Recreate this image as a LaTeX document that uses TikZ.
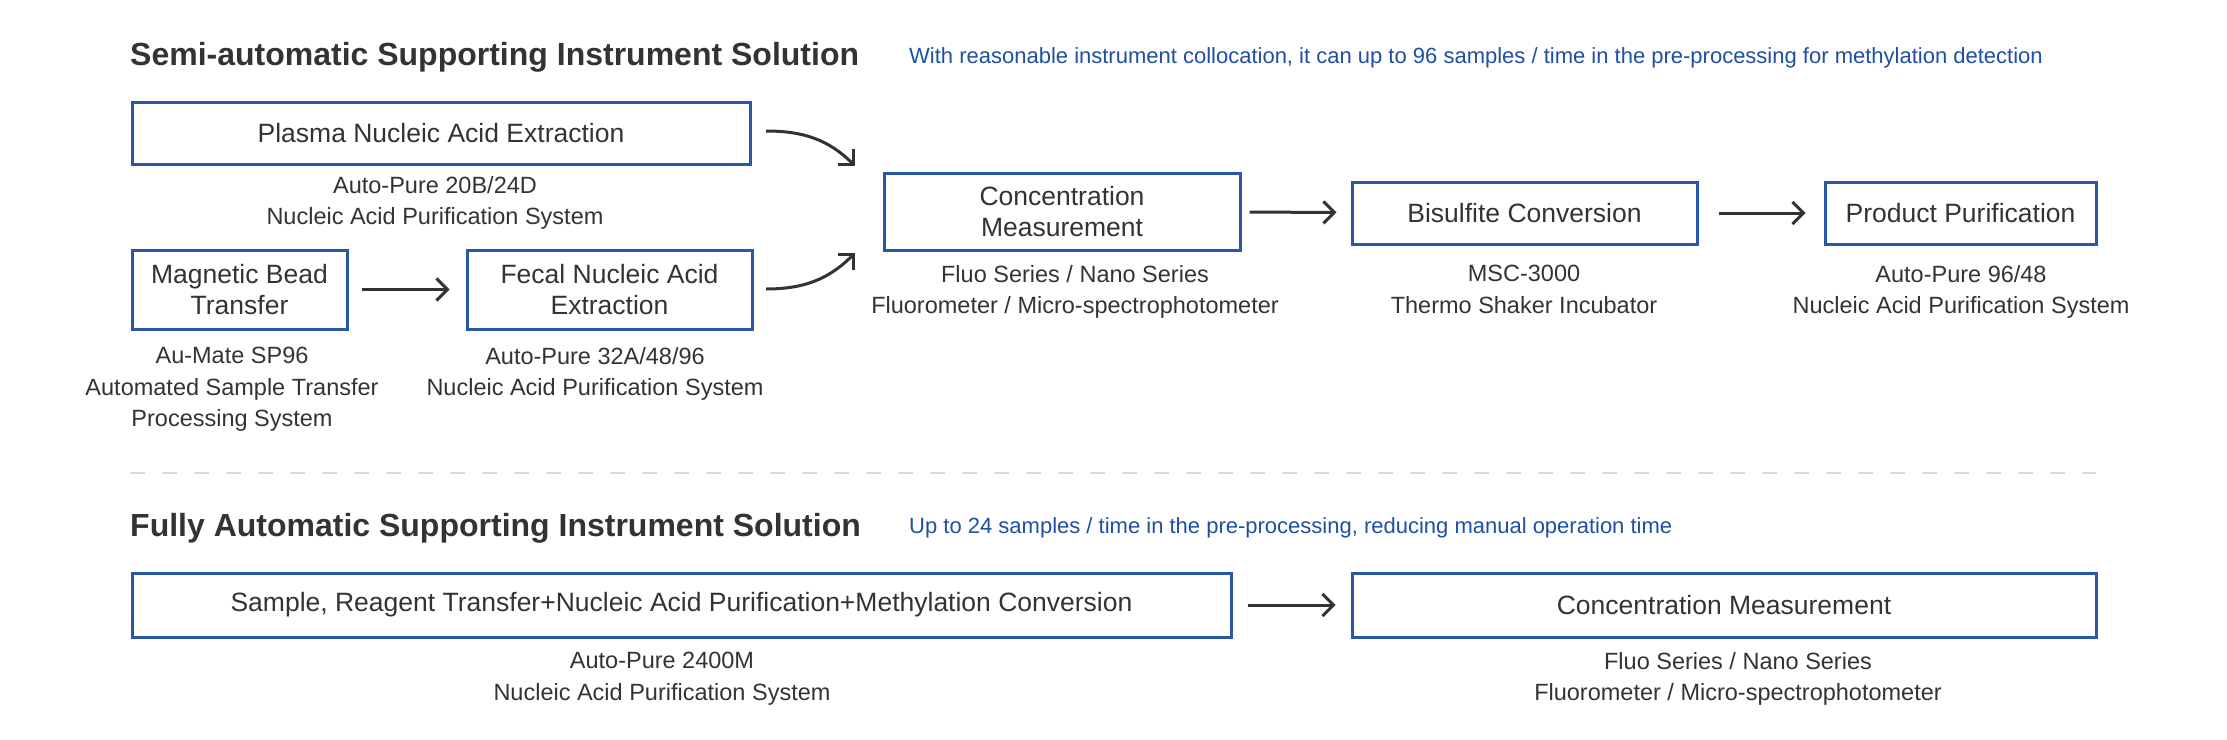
\documentclass[tikz,border=0pt]{standalone}
\usepackage{fontspec}
\setmainfont{Liberation Sans}
\usetikzlibrary{arrows.meta}
\definecolor{boxblue}{HTML}{2B58A6}
\definecolor{txt}{HTML}{333333}
\definecolor{bluetxt}{HTML}{1F4FA3}
\definecolor{dashgray}{HTML}{D9D9D9}
\begin{document}
\begin{tikzpicture}[x=1pt,y=-1pt,
  box/.style={draw=boxblue,line width=3pt,inner sep=0pt,align=center,text=txt,
    font=\fontsize{26.5}{31.5}\selectfont},
  lab/.style={anchor=north,inner sep=0pt,align=center,text=txt,
    font=\fontsize{23.5}{31.5}\selectfont},
  title/.style={anchor=base west,inner sep=0pt,text=txt,font=\fontsize{32}{36}\selectfont\bfseries},
  note/.style={anchor=base west,inner sep=0pt,text=bluetxt,font=\fontsize{22}{26}\selectfont},
  arr/.style={draw=txt,line width=3pt,-{Straight Barb[length=11pt,width=22pt,line width=3pt]}}]
\useasboundingbox (0,0) rectangle (2227,739);
% titles
\node[title] (t1) at (130,65) {Semi-automatic Supporting Instrument Solution};
\node[note] (n1) at (909,63) {With reasonable instrument collocation, it can up to 96 samples / time in the pre-processing for methylation detection};
\node[title] (t2) at (130,536) {Fully Automatic Supporting Instrument Solution};
\node[note] (n2) at (909,533) {Up to 24 samples / time in the pre-processing, reducing manual operation time};
% separator
\coordinate (d1) at (130,473);
\coordinate (d2) at (2096,473);
\draw[dashgray,line width=2.5pt,dash pattern=on 15pt off 17pt] (d1) -- (d2);
% boxes
\node[box,minimum width=618pt,minimum height=62pt] (plasma) at (441,133) {Plasma Nucleic Acid Extraction};
\node[box,minimum width=215pt,minimum height=79pt] (mag) at (239.5,289.5) {Magnetic Bead\\Transfer};
\node[box,minimum width=285pt,minimum height=79pt] (fecal) at (609.5,289.5) {Fecal Nucleic Acid\\Extraction};
\node[box,minimum width=356pt,minimum height=77pt] (conc) at (1062,211.5) {Concentration\\Measurement};
\node[box,minimum width=345pt,minimum height=62pt] (bis) at (1524.5,213) {Bisulfite Conversion};
\node[box,minimum width=271pt,minimum height=62pt] (prod) at (1960.5,213) {Product Purification};
\node[box,minimum width=1099pt,minimum height=64pt] (sample) at (681.5,605) {Sample, Reagent Transfer+Nucleic Acid Purification+Methylation Conversion};
\node[box,minimum width=744pt,minimum height=64pt] (conc2) at (1724,605) {Concentration Measurement};
% labels
\node[lab] (l1) at (435,176) {Auto-Pure 20B/24D\\Nucleic Acid Purification System};
\node[lab] (l2) at (232,347) {Au-Mate SP96\\Automated Sample Transfer\\Processing System};
\node[lab] (l3) at (595,347) {Auto-Pure 32A/48/96\\Nucleic Acid Purification System};
\node[lab] (l4) at (1075,265) {Fluo Series / Nano Series\\Fluorometer / Micro-spectrophotometer};
\node[lab] (l5) at (1524,265) {MSC-3000\\Thermo Shaker Incubator};
\node[lab] (l6) at (1961,265) {Auto-Pure 96/48\\Nucleic Acid Purification System};
\node[lab] (l7) at (662,652) {Auto-Pure 2400M\\Nucleic Acid Purification System};
\node[lab] (l8) at (1738,652) {Fluo Series / Nano Series\\Fluorometer / Micro-spectrophotometer};
% connectors
\draw[arr,shorten <=13pt,shorten >=16pt] (mag) -- (fecal);
\draw[arr,shorten <=8pt,shorten >=14pt] (conc) -- (bis);
\draw[arr,shorten <=20pt,shorten >=18pt] (bis) -- (prod);
\draw[arr,shorten <=15pt,shorten >=15pt] (sample) -- (conc2);
\coordinate (p1) at (766,131);
\coordinate (p2) at (855,166);
\coordinate (f1) at (766,289);
\coordinate (f2) at (855,253);
\draw[arr] (p1) to[out=0,in=135] (p2);
\draw[arr] (f1) to[out=0,in=225] (f2);
\end{tikzpicture}
\end{document}
